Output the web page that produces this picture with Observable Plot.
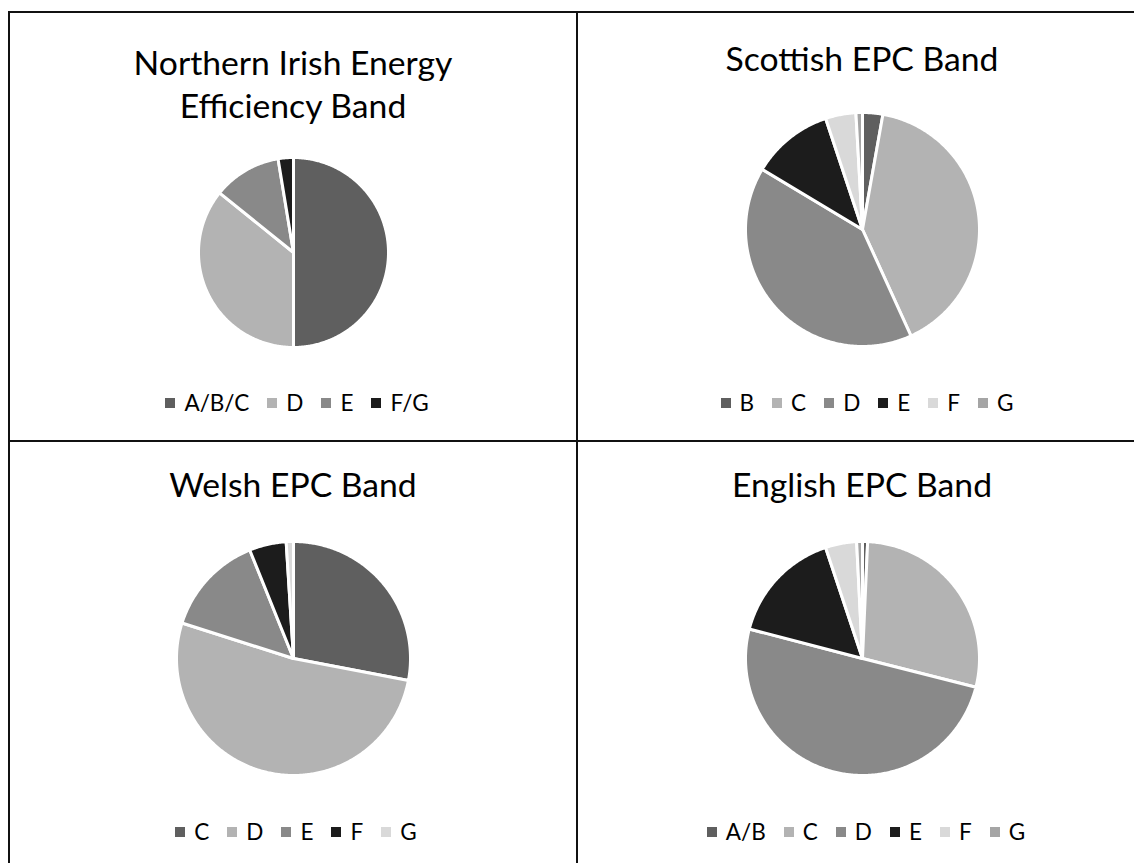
<!DOCTYPE html>
<html><head><meta charset="utf-8">
<script src="https://cdn.jsdelivr.net/npm/d3@7"></script>
<script src="https://cdn.jsdelivr.net/npm/@observablehq/plot@0.6"></script>
<style>
body{margin:0;background:#fff;font-family:Lato,"Open Sans",sans-serif;color:#000;}
#root{position:relative;width:1134px;height:863px;overflow:hidden;background:#fff;}
.rule{position:absolute;background:#111;}
.title{position:absolute;text-align:center;font-size:33.7px;line-height:43px;white-space:nowrap;}
.legend{position:absolute;display:flex;justify-content:center;align-items:center;font-size:22.5px;line-height:26px;white-space:nowrap;}
.item{display:flex;align-items:center;margin:0 9px;}
.sw{width:10px;height:10px;margin-right:9px;display:inline-block;}
svg{position:absolute;overflow:visible;}
</style>
</head><body><div id="root"></div>
<script>
// ---- data (percent of dwellings in each band) ----
const niBands = ["A/B/C", "D", "E", "F/G"];
const niShares = [50.0, 35.8, 11.6, 2.6];
const scotBands = ["B", "C", "D", "E", "F", "G"];
const scotShares = [2.8, 40.4, 40.4, 11.3, 4.2, 0.9];
const walesBands = ["C", "D", "E", "F", "G"];
const walesShares = [28.0, 51.9, 14.0, 5.1, 1.0];
const engBands = ["A/B", "C", "D", "E", "F", "G"];
const engShares = [0.7, 28.2, 50.0, 15.8, 4.3, 0.8];
const niTitle = ["Northern Irish Energy", "Efficiency Band"];
const scotTitle = ["Scottish EPC Band"];
const walesTitle = ["Welsh EPC Band"];
const engTitle = ["English EPC Band"];

const greys = ["#5f5f5f", "#b3b3b3", "#898989", "#1c1c1c", "#d9d9d9", "#a5a5a5"];
const root = document.getElementById("root");

function rule(l, t, w, h) {
  const d = document.createElement("div");
  d.className = "rule";
  Object.assign(d.style, {left: l + "px", top: t + "px", width: w + "px", height: h + "px"});
  root.appendChild(d);
}
rule(8, 11, 1200, 2);
rule(8, 11, 2, 900);
rule(576, 11, 2, 900);
rule(8, 440, 1200, 2);

function pieRows(bands, shares) {
  const arcs = d3.pie().sort(null)(shares);
  const rows = [];
  arcs.forEach((a, i) => {
    const span = a.endAngle - a.startAngle;
    const steps = Math.max(2, Math.ceil(span / 0.01));
    rows.push({band: bands[i], x: 0, y: 0});
    for (let k = 0; k <= steps; k++) {
      const t = a.startAngle + span * k / steps;
      rows.push({band: bands[i], x: Math.sin(t), y: Math.cos(t)});
    }
  });
  return rows;
}

function panel({bands, shares, title, cx, cy, r, titleY, legendX, legendY}) {
  const m = 4;
  const size = 2 * r + 2 * m;
  const svg = Plot.plot({
    width: size, height: size,
    margin: m,
    x: {domain: [-1, 1], axis: null},
    y: {domain: [-1, 1], axis: null},
    color: {type: "ordinal", domain: bands, range: greys.slice(0, bands.length)},
    marks: [
      Plot.line(pieRows(bands, shares), {
        x: "x", y: "y", z: "band", fill: "band",
        stroke: "white", strokeWidth: 3, curve: "linear-closed"
      })
    ]
  });
  svg.style.left = (cx - r - m) + "px";
  svg.style.top = (cy - r - m) + "px";
  svg.style.background = "transparent";
  root.appendChild(svg);

  title.forEach((line, i) => {
    const d = document.createElement("div");
    d.className = "title";
    d.textContent = line;
    d.style.left = (cx - 300) + "px";
    d.style.width = "600px";
    d.style.top = (titleY + i * 43 - 21.5) + "px";
    root.appendChild(d);
  });

  const lg = document.createElement("div");
  lg.className = "legend";
  lg.style.left = (legendX - 300) + "px";
  lg.style.width = "600px";
  lg.style.top = (legendY - 13) + "px";
  bands.forEach((b, i) => {
    const it = document.createElement("div");
    it.className = "item";
    const sw = document.createElement("span");
    sw.className = "sw";
    sw.style.background = greys[i];
    const tx = document.createElement("span");
    tx.textContent = b;
    it.appendChild(sw); it.appendChild(tx);
    lg.appendChild(it);
  });
  root.appendChild(lg);
}

panel({bands: niBands, shares: niShares, title: niTitle, cx: 293, cy: 252, r: 95, titleY: 62, legendX: 297, legendY: 403});
panel({bands: scotBands, shares: scotShares, title: scotTitle, cx: 862, cy: 229, r: 117, titleY: 58, legendX: 867, legendY: 403});
panel({bands: walesBands, shares: walesShares, title: walesTitle, cx: 293, cy: 658, r: 117, titleY: 484, legendX: 296, legendY: 832});
panel({bands: engBands, shares: engShares, title: engTitle, cx: 862, cy: 658, r: 117, titleY: 484, legendX: 866, legendY: 832});
</script>
</body></html>
